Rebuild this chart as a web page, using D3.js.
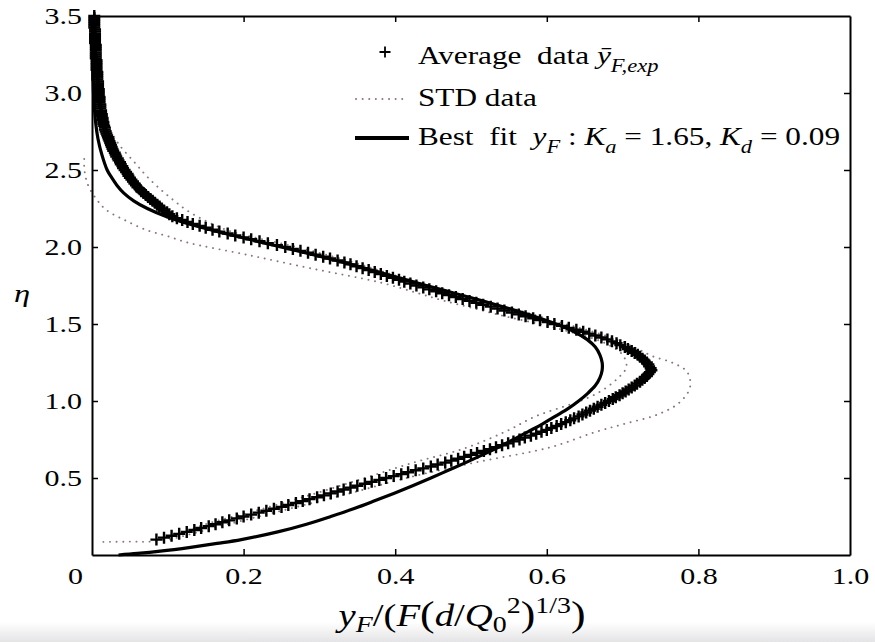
<!DOCTYPE html>
<html><head><meta charset="utf-8">
<script src="https://cdn.jsdelivr.net/npm/d3@7"></script>
<style>
html,body{margin:0;padding:0;background:#fff;}
svg{display:block;font-family:"Liberation Serif","Times New Roman",serif;}
text{white-space:pre;}
</style></head><body>
<svg id="c" width="875" height="642"></svg>
<script>
// ---------- data ----------
const xTicks = [0, 0.2, 0.4, 0.6, 0.8, 1.0];
const yTicks = [0, 0.5, 1.0, 1.5, 2.0, 2.5, 3.0, 3.5];

// Average data: eta sampled from 0.1 to 3.5 in steps of 0.0125
const avgEtaStart = 0.1, avgEtaStep = 0.0125;
const avgX = [
0.085,0.095,0.105,0.115, 0.125,0.135,0.144,0.154, 0.163,0.172,0.181,0.191, 0.200,0.210,0.220,0.230,
0.240,0.250,0.259,0.269, 0.278,0.287,0.297,0.306, 0.315,0.324,0.332,0.341, 0.350,0.360,0.369,0.379,
0.388,0.398,0.408,0.417, 0.427,0.437,0.447,0.456, 0.466,0.474,0.483,0.491, 0.500,0.508,0.517,0.525,
0.533,0.541,0.549,0.556, 0.564,0.571,0.579,0.586, 0.593,0.600,0.606,0.613, 0.619,0.625,0.631,0.636,
0.642,0.647,0.652,0.657, 0.662,0.667,0.672,0.677, 0.682,0.687,0.691,0.696, 0.700,0.704,0.708,0.712,
0.716,0.719,0.723,0.726, 0.729,0.732,0.734,0.736, 0.738,0.737,0.735,0.734, 0.732,0.729,0.726,0.723,
0.720,0.716,0.712,0.707, 0.703,0.697,0.692,0.686, 0.680,0.672,0.664,0.656, 0.648,0.639,0.629,0.620,
0.610,0.601,0.591,0.582, 0.572,0.563,0.554,0.544, 0.535,0.526,0.516,0.507, 0.498,0.489,0.480,0.471,
0.462,0.454,0.445,0.437, 0.428,0.420,0.412,0.405, 0.397,0.389,0.381,0.373, 0.365,0.357,0.349,0.341,
0.333,0.324,0.314,0.305, 0.295,0.285,0.275,0.265, 0.255,0.244,0.232,0.221, 0.210,0.200,0.189,0.179,
0.168,0.159,0.150,0.142, 0.133,0.126,0.119,0.112, 0.106,0.102,0.099,0.095, 0.092,0.089,0.086,0.083,
0.080,0.077,0.074,0.071, 0.068,0.065,0.063,0.060, 0.058,0.056,0.054,0.052, 0.050,0.048,0.047,0.045,
0.043,0.041,0.040,0.038, 0.037,0.035,0.034,0.032, 0.031,0.030,0.028,0.027, 0.026,0.025,0.024,0.023,
0.022,0.021,0.020,0.019, 0.018,0.017,0.017,0.016, 0.015,0.015,0.014,0.014, 0.013,0.013,0.012,0.012,
0.011,0.011,0.011,0.010, 0.010,0.010,0.010,0.009, 0.009,0.009,0.009,0.008, 0.008,0.008,0.008,0.007,
0.007,0.007,0.007,0.007, 0.006,0.006,0.006,0.006, 0.006,0.006,0.005,0.005, 0.005,0.005,0.005,0.005,
0.005,0.005,0.004,0.004, 0.004,0.004,0.004,0.004, 0.004,0.004,0.003,0.003, 0.003,0.003,0.003,0.003,
0.003];

// STD data, lower bound
const stdLowX   = [0.015,0.050,0.085,0.150,0.225,0.295,0.360,0.424,0.490,0.545,0.585,0.620,0.644,0.670,0.692,0.705,0.700,0.675,0.630,0.590,0.545,0.505,0.465,0.430,0.380,0.290,0.204,0.125,0.100,0.072,0.043,0.019,0.006,-0.005,-0.010,-0.010];
const stdLowEta = [0.085,0.087,0.092,0.200,0.300,0.400,0.500,0.600,0.690,0.800,0.900,0.960,1.000,1.060,1.140,1.220,1.300,1.380,1.450,1.500,1.550,1.600,1.650,1.700,1.770,1.860,1.950,2.030,2.070,2.110,2.175,2.240,2.310,2.400,2.500,2.600];
// STD data, upper bound
const stdHighX   = [0.095,0.180,0.260,0.340,0.415,0.505,0.605,0.665,0.705,0.745,0.775,0.789,0.785,0.765,0.740,0.715,0.680,0.625,0.555,0.480,0.410,0.345,0.270,0.225,0.178,0.131,0.101,0.076,0.056,0.035,0.022];
const stdHighEta = [0.090,0.200,0.300,0.400,0.500,0.600,0.700,0.800,0.855,0.910,0.990,1.090,1.190,1.250,1.290,1.350,1.420,1.500,1.600,1.700,1.800,1.900,2.000,2.050,2.110,2.220,2.330,2.440,2.550,2.670,2.780];

// Best fit (Ka = 1.65, Kd = 0.09)
const fitEta = [0,0.01,0.025,0.05,0.075,0.1,0.15,0.2,0.25,0.3,0.35,0.4,0.45,0.5,0.55,0.6,0.65,0.7,0.75,0.8,0.85,0.9,0.95,1.0,1.05,1.1,1.15,1.2,1.25,1.3,1.35,1.4,1.45,1.5,1.55,1.6,1.65,1.7,1.75,1.8,1.85,1.9,1.95,2.0,2.05,2.1,2.15,2.2,2.25,2.3,2.35,2.4,2.45,2.5,2.6,2.7,2.8,3.0,3.25,3.5];
const fitX   = [0.035,0.060,0.090,0.130,0.165,0.197,0.245,0.283,0.315,0.345,0.372,0.398,0.423,0.447,0.470,0.493,0.515,0.536,0.556,0.575,0.594,0.611,0.628,0.642,0.654,0.664,0.670,0.673,0.673,0.670,0.664,0.653,0.636,0.612,0.583,0.550,0.515,0.478,0.441,0.405,0.369,0.332,0.292,0.250,0.207,0.166,0.128,0.097,0.073,0.055,0.042,0.033,0.026,0.020,0.013,0.008,0.005,0.002,0.001,0.000];

// ---------- drawing ----------
const SX = 1.25;            // horizontal stretch of the lettering
const FS = 25;
const svg = d3.select("#c");
const L = 92, R = 850, T = 16, B = 555;
const x = d3.scaleLinear().domain([0, 1]).range([L, R]);
const y = d3.scaleLinear().domain([0, 3.5]).range([B, T]);

// faint scan shading at the bottom edge
const grad = svg.append("defs").append("linearGradient").attr("id", "bg")
  .attr("x1", 0).attr("x2", 0).attr("y1", 0).attr("y2", 1);
grad.append("stop").attr("offset", 0).attr("stop-color", "#ffffff");
grad.append("stop").attr("offset", 1).attr("stop-color", "#e4e4e6");
svg.append("rect").attr("x", 0).attr("y", 622).attr("width", 875).attr("height", 20).attr("fill", "url(#bg)");

const avgEta = avgX.map((_, i) => +(avgEtaStart + i * avgEtaStep).toFixed(4));
const avgPts = avgX.map((v, i) => [v, avgEta[i]]);
const lowPts = stdLowX.map((v, i) => [v, stdLowEta[i]]);
const highPts = stdHighX.map((v, i) => [v, stdHighEta[i]]);
const fitPts = fitX.map((v, i) => [v, fitEta[i]]);

const line = d3.line().x(d => x(d[0])).y(d => y(d[1])).curve(d3.curveCatmullRom.alpha(0.5));
const dotColor = "#8c7676";

// STD dotted
[lowPts, highPts].forEach(p => {
  svg.append("path").attr("d", line(p)).attr("fill", "none")
    .attr("stroke", dotColor).attr("stroke-width", 1.9)
    .attr("stroke-dasharray", "0.1,6.5").attr("stroke-linecap", "round");
});

// Fit
svg.append("path").attr("d", line(fitPts)).attr("fill", "none")
  .attr("stroke", "#000").attr("stroke-width", 3.2);

// Average markers
const plus = "M-6,0H6M0,-6V6";
svg.append("g").selectAll("path").data(avgPts).join("path")
  .attr("d", plus)
  .attr("transform", d => `translate(${x(d[0])},${y(d[1])})`)
  .attr("stroke", "#000").attr("stroke-width", 2.4).attr("fill", "none");

// Axes
function styleAxis(g) {
  g.attr("font-family", null).attr("font-size", 24);
  g.selectAll("line").attr("stroke-width", 1.5);
  g.select(".domain").attr("stroke-width", 2);
}
const gx = svg.append("g").attr("transform", `translate(0,${B})`)
  .call(d3.axisBottom(x).tickValues(xTicks).tickSizeInner(-6).tickSizeOuter(0).tickPadding(12)
    .tickFormat(d => d === 0 ? "0" : d3.format(".1f")(d)))
  .call(styleAxis);
gx.selectAll("text").attr("transform", `scale(${SX},1)`);
gx.selectAll(".tick").filter(d => d === 0).select("text").attr("x", -17 / SX);
gx.selectAll(".tick").filter(d => d === 0 || d === 1).select("line").remove();

const gy = svg.append("g").attr("transform", `translate(${L},0)`)
  .call(d3.axisLeft(y).tickValues(yTicks).tickSizeInner(-6).tickSizeOuter(0).tickPadding(8)
    .tickFormat(d => d === 0 ? "" : d3.format(".1f")(d)))
  .call(styleAxis);
gy.selectAll("text").attr("transform", `scale(${SX},1)`);
gy.selectAll(".tick").filter(d => d === 0 || d === 3.5).select("line").remove();

svg.append("g").attr("transform", `translate(0,${T})`)
  .call(d3.axisTop(x).tickValues(xTicks.slice(1, -1)).tickSizeInner(-6).tickSizeOuter(0).tickFormat(""))
  .call(styleAxis);
svg.append("g").attr("transform", `translate(${R},0)`)
  .call(d3.axisRight(y).tickValues(yTicks.slice(1, -1)).tickSizeInner(-6).tickSizeOuter(0).tickFormat(""))
  .call(styleAxis);

// Rich text helper
function rich(sel, tx, ty, parts, fs, anchor, subK) {
  const t = sel.append("text")
    .attr("transform", `translate(${tx},${ty}) scale(${SX},1)`)
    .attr("font-size", fs).attr("text-anchor", anchor || "start").attr("fill", "#000");
  let cur = 0;
  const sk = subK || 0.32;
  parts.forEach(p => {
    const off = p.sub ? fs * sk : p.sup ? -fs * 0.42 : 0;
    const ts = t.append("tspan").text(p.t).attr("dy", off - cur);
    cur = off;
    if (p.i) ts.attr("font-style", "italic");
    if (p.sub || p.sup) ts.attr("font-size", fs * 0.72);
    if (p.fs) ts.attr("font-size", p.fs);
  });
  return t;
}

// Legend
const lg = svg.append("g");
lg.append("path").attr("d", "M-5.5,0H5.5M0,-5.5V5.5").attr("transform", "translate(385,52)")
  .attr("stroke", "#000").attr("stroke-width", 1.8);
rich(lg, 418, 64, [{t: "Average  data "}, {t: "ȳ", i: 1}, {t: "F,exp", i: 1, sub: 1}], FS);
lg.append("line").attr("x1", 356).attr("x2", 406).attr("y1", 99).attr("y2", 99)
  .attr("stroke", dotColor).attr("stroke-width", 1.9)
  .attr("stroke-dasharray", "0.1,6.5").attr("stroke-linecap", "round");
rich(lg, 418, 106, [{t: "STD data"}], FS);
lg.append("line").attr("x1", 355).attr("x2", 409).attr("y1", 138).attr("y2", 138)
  .attr("stroke", "#000").attr("stroke-width", 4);
rich(lg, 418, 145, [
  {t: "Best  fit  "}, {t: "y", i: 1}, {t: "F", i: 1, sub: 1}, {t: " : "},
  {t: "K", i: 1}, {t: "a", i: 1, sub: 1}, {t: " = 1.65, "},
  {t: "K", i: 1}, {t: "d", i: 1, sub: 1}, {t: " = 0.09"}], FS);

// Axis titles
rich(svg, 462, 626, [
  {t: "y", i: 1}, {t: "F", i: 1, sub: 1}, {t: "/("}, {t: "F", i: 1}, {t: "(", fs: 35},
  {t: "d", i: 1}, {t: "/"}, {t: "Q", i: 1}, {t: "0", sub: 1}, {t: "2", sup: 1},
  {t: ")", fs: 35}, {t: "1/3", sup: 1}, {t: ")", fs: 35}], 31, "middle", 0.2);
rich(svg, 22, 302, [{t: "η", i: 1}], 26, "middle");
</script>
</body></html>
